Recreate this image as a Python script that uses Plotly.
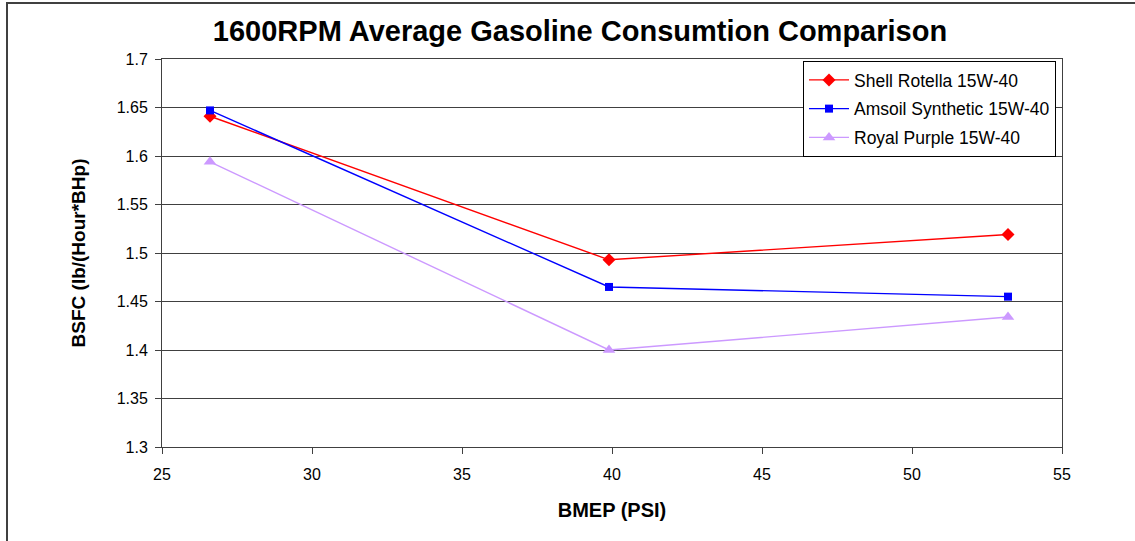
import plotly.graph_objects as go

bmep = [26.6, 39.9, 53.2]
shell = [1.641, 1.493, 1.519]
amsoil = [1.647, 1.465, 1.455]
royal = [1.594, 1.400, 1.434]
names = ["Shell Rotella 15W-40", "Amsoil Synthetic 15W-40", "Royal Purple 15W-40"]

W, H = 1135, 541
L, R, T, B = 162, 73, 59, 94
pw, ph = W - L - R, H - T - B

fig = go.Figure()
fig.add_trace(go.Scatter(x=bmep, y=shell, name=names[0], mode="lines+markers", legendgroup="a",
                         line=dict(color="#FF0000", width=1.4),
                         marker=dict(symbol="diamond", size=10, color="#FF0000")))
fig.add_trace(go.Scatter(x=bmep, y=amsoil, name=names[1], mode="lines+markers", legendgroup="b",
                         line=dict(color="#0000FF", width=1.4),
                         marker=dict(symbol="square", size=8, color="#0000FF")))
fig.add_trace(go.Scatter(x=bmep, y=royal, name=names[2], mode="lines+markers", legendgroup="c",
                         line=dict(color="#CC99FF", width=1.4),
                         marker=dict(symbol="triangle-up", size=11, color="#CC99FF")))

font = "Liberation Sans, Arial, sans-serif"
fig.update_layout(
    width=W, height=H,
    margin=dict(l=L, r=R, t=T, b=B, pad=0),
    paper_bgcolor="white", plot_bgcolor="white",
    font=dict(family=font, size=16, color="black"),
    title=dict(text="<b>1600RPM Average Gasoline Consumtion Comparison</b>",
               x=580 / W, xref="container", xanchor="center",
               y=1 - 31 / H, yref="container", yanchor="middle",
               font=dict(size=29, family=font, color="black")),
    showlegend=True,
    legend=dict(x=(803 - L) / pw, y=1 - (61 - T) / ph, xanchor="left", yanchor="top",
                bordercolor="black", borderwidth=1, bgcolor="white",
                font=dict(size=17.5, family=font), traceorder="grouped", tracegroupgap=3,
                itemwidth=40),
    xaxis=dict(range=[25, 55], dtick=5, tick0=25, showgrid=False,
               showline=True, linecolor="#404040", linewidth=1, mirror=True,
               ticks="outside", ticklen=6, tickcolor="#404040", ticklabelstandoff=7,
               zeroline=False,
               title=dict(text="<b>BMEP (PSI)</b>", font=dict(size=20, family=font), standoff=20)),
    yaxis=dict(range=[1.3, 1.7], dtick=0.05, tick0=1.3, showgrid=True,
               gridcolor="#404040", gridwidth=1,
               showline=True, linecolor="#404040", linewidth=1, mirror=True,
               ticks="outside", ticklen=6, tickcolor="#404040", ticklabelstandoff=4,
               zeroline=False,
               title=dict(text="<b>BSFC (lb/(Hour*BHp)</b>", font=dict(size=19, family=font), standoff=26)),
    shapes=[dict(type="rect", xref="paper", yref="paper",
                 x0=(7 - L) / pw, x1=(1145 - L) / pw,
                 y0=-(H + 10 - (H - B)) / ph, y1=1 + (T - 3) / ph,
                 line=dict(color="#404040", width=2), layer="below")],
)

fig.write_html("out.html")
